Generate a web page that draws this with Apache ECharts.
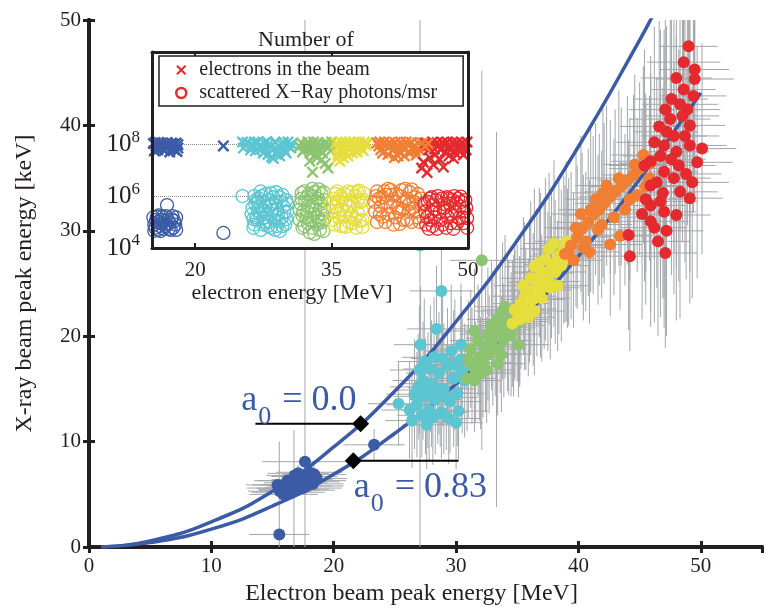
<!DOCTYPE html>
<html>
<head>
<meta charset="utf-8">
<script src="https://cdn.jsdelivr.net/npm/echarts@6/dist/echarts.min.js"></script>
<style>
html, body { margin: 0; padding: 0; background: #fff; }
#chart { width: 764px; height: 611px; }
</style>
</head>
<body>
<div id="chart"></div>
<script>
// main plot points: [electron energy MeV, X-ray energy keV, x error, y error]
var blueMain = [[15.6,5.3,2.6,0.6],[15.9,5.0,2.8,0.5],[16.1,5.6,2.4,0.7],[16.3,5.2,3.0,0.6],[16.5,5.9,2.5,0.8],[16.7,5.5,2.9,0.6],[16.9,6.1,2.6,0.7],[17.0,5.4,3.1,0.5],[17.2,5.8,2.7,0.8],[17.4,6.4,2.5,0.9],[17.5,5.6,3.2,0.6],[17.7,6.2,2.8,0.7],[17.9,6.7,2.4,0.8],[18.1,6.3,2.9,0.6],[18.4,6.9,2.6,0.9],[16.2,6.3,2.7,0.7],[17.1,7.0,2.5,0.8],[15.4,5.9,2.6,0.6],[16.8,6.8,2.3,0.5],[18.3,6.0,2.5,0.7],[16.0,5.9,2.6,0.6],[16.6,6.3,2.8,0.7],[17.3,6.7,2.4,0.6],[17.8,5.8,3.0,0.7],[18.6,6.5,2.5,0.8],[15.8,5.6,2.9,0.5],[16.4,5.4,2.5,0.6],[18.0,7.1,2.7,0.8],[16.75,5.5,2.0,5.6],[17.65,8.1,3.5,46],[15.55,1.2,2.45,8.8],[23.3,9.7,2.5,1.5]];
var cyanMain = [[26.4,12.0,2.2,4.5],[26.8,13.5,2.5,5.0],[27.2,12.5,2.0,4.0],[27.5,14.3,2.6,5.5],[27.8,13.0,2.3,4.8],[28.0,15.5,2.4,6.0],[28.3,14.0,2.1,5.2],[28.6,16.5,2.7,5.8],[28.8,12.8,2.2,4.4],[29.0,15.0,2.5,6.2],[29.3,17.2,2.3,5.5],[29.5,13.8,2.6,4.9],[29.8,16.0,2.4,6.5],[30.1,14.6,2.2,5.0],[30.4,17.8,2.5,6.0],[30.7,15.8,2.3,5.4],[27.0,16.8,2.4,6.1],[28.2,18.0,2.6,5.7],[29.6,18.6,2.2,6.3],[27.6,11.6,2.0,4.2],[26.9,15.2,2.3,5.0],[30.2,12.9,2.4,4.6],[26.6,14.5,2.3,5.2],[27.3,15.8,2.5,5.6],[27.9,16.9,2.2,6.0],[28.5,15.1,2.4,5.3],[29.2,14.2,2.6,5.0],[29.9,17.3,2.3,6.2],[28.1,12.3,2.1,4.5],[29.4,12.2,2.5,4.3],[30.5,16.6,2.4,5.8],[27.4,17.6,2.2,6.0],[28.9,17.9,2.6,6.4],[26.2,13.0,2.3,4.6],[30.0,11.8,2.2,4.4],[28.7,14.6,2.4,5.1],[27.7,14.9,2.5,5.5],[25.3,13.6,2.5,4.0],[27.1,19.2,2.2,5.5],[28.4,20.7,2.4,6.0],[28.8,24.3,2.6,7.0],[30.4,19.2,2.3,5.8],[27.05,28.6,2.0,29]];
var greenMain = [[30.9,16.0,2.3,5.0],[31.3,17.2,2.5,5.5],[31.6,16.6,2.2,4.8],[31.9,18.0,2.4,6.0],[32.2,17.5,2.6,5.2],[32.4,19.0,2.3,6.2],[32.7,18.3,2.5,5.6],[33.0,19.8,2.2,6.4],[33.3,18.8,2.4,5.8],[33.6,20.6,2.6,6.0],[33.9,19.6,2.3,5.4],[34.2,21.4,2.5,6.6],[34.5,20.2,2.4,5.9],[34.8,22.0,2.2,6.2],[35.1,19.2,2.5,5.0],[31.8,19.6,2.3,5.3],[32.9,21.0,2.4,6.1],[33.4,17.4,2.2,4.9],[31.2,18.8,2.5,5.6],[33.8,22.4,2.3,6.5],[31.0,17.8,2.4,5.6],[31.5,15.8,2.2,4.9],[32.0,16.5,2.6,5.3],[32.6,20.2,2.3,6.3],[33.2,20.4,2.5,6.1],[33.7,18.3,2.4,5.5],[34.3,20.8,2.2,6.4],[34.7,21.0,2.6,6.7],[32.5,16.8,2.3,5.0],[34.0,22.8,2.5,6.8],[31.5,20.5,2.4,5.9],[35.2,21.4,2.3,6.2],[32.1,27.2,2.6,18],[33.3,21.6,2.4,17.8]];
var yellowMain = [[34.6,21.2,2.4,6.0],[35.0,22.2,2.6,6.5],[35.3,23.1,2.3,6.2],[35.7,22.6,2.5,5.8],[36.0,24.3,2.4,6.8],[36.3,23.5,2.6,6.3],[36.6,25.1,2.3,7.0],[36.9,24.4,2.5,6.4],[37.2,26.0,2.4,7.2],[37.5,25.2,2.6,6.6],[37.8,26.8,2.3,7.0],[38.1,26.1,2.5,6.8],[38.4,27.6,2.4,7.4],[38.8,28.2,2.6,7.0],[39.1,27.4,2.3,6.6],[35.5,24.8,2.4,6.5],[36.8,27.0,2.5,7.1],[37.6,28.3,2.4,7.2],[35.9,21.8,2.2,5.6],[37.0,23.6,2.3,6.0],[38.3,24.8,2.5,6.2],[34.8,22.5,2.5,6.4],[35.2,21.6,2.3,6.0],[35.6,23.8,2.6,7.0],[36.1,25.5,2.4,7.3],[36.4,22.4,2.5,6.1],[36.9,26.1,2.3,7.5],[37.3,27.3,2.6,7.7],[37.7,24.6,2.4,6.8],[38.0,28.8,2.5,7.9],[38.6,26.7,2.3,7.2],[39.0,29.0,2.6,7.6],[36.4,26.6,2.4,7.4]];
var orangeMain = [[38.9,27.8,2.6,6.5],[39.4,28.6,2.5,7.0],[39.9,29.4,2.7,6.8],[40.3,30.2,2.4,7.2],[40.8,30.8,2.6,7.0],[41.2,31.5,2.5,7.5],[41.7,32.0,2.7,7.2],[42.1,32.6,2.4,7.6],[42.6,33.2,2.6,7.3],[43.0,33.7,2.5,7.8],[43.5,34.2,2.7,7.5],[44.0,34.8,2.4,8.0],[44.5,35.3,2.6,7.6],[45.0,35.9,2.5,8.2],[45.8,35.0,2.7,7.8],[40.6,29.0,2.4,6.6],[41.9,30.6,2.5,7.0],[42.6,28.7,2.6,6.8],[43.8,32.0,2.4,7.2],[40.2,31.6,2.5,7.4],[42.3,34.3,2.6,7.6],[44.8,33.4,2.5,7.3],[39.6,27.2,2.4,6.4],[45.3,37.2,2.6,8.4],[41.4,33.0,2.5,7.2],[39.2,28.0,2.5,7.0],[39.8,30.3,2.6,7.5],[40.4,28.4,2.4,6.9],[41.0,32.0,2.7,7.8],[41.6,30.1,2.5,7.1],[42.0,33.6,2.6,8.0],[42.9,31.3,2.4,7.4],[43.3,35.0,2.7,8.3],[44.2,33.0,2.5,7.7],[44.6,36.3,2.6,8.5],[45.5,34.2,2.4,8.0],[40.9,28.0,2.5,6.8],[43.4,29.5,2.6,7.0],[45.9,36.4,2.5,8.6]];
var redMain = [[49.0,47.5,2.4,10],[48.6,46.0,3.0,11],[49.5,45.3,2.8,10],[49.5,44.4,3.2,11],[48.6,43.4,2.6,10],[47.6,42.5,3.0,12],[48.9,41.5,2.7,11],[47.5,40.6,3.3,10],[49.1,40.0,2.9,12],[47.2,39.4,2.6,10],[46.2,38.4,3.1,11],[50.1,37.8,2.8,10],[49.1,38.1,3.0,12],[48.0,37.5,2.7,11],[45.9,36.6,3.2,10],[47.0,35.6,2.8,12],[47.8,35.0,3.0,11],[45.9,34.3,2.6,10],[48.3,33.7,3.1,12],[49.1,33.1,2.7,10],[46.7,32.8,3.0,11],[45.9,32.4,2.8,10],[47.0,31.8,2.6,11],[45.9,30.9,3.1,10],[46.2,30.3,2.7,9],[47.2,30.0,3.0,10],[44.2,27.6,2.8,9],[47.1,27.9,2.6,9],[45.4,36.2,2.9,11],[46.7,37.1,3.1,12],[47.8,39.0,2.7,11],[48.5,40.9,3.0,12],[47.0,38.1,2.8,11],[44.1,29.6,2.6,9],[48.2,36.2,3.0,11],[46.4,34.6,2.7,10],[48.8,35.4,2.9,10],[48.0,44.5,2.9,11],[48.3,42.0,3.1,12],[49.4,42.8,2.7,11],[47.1,41.5,3.0,11],[48.7,39.0,2.8,12],[46.6,39.9,3.2,10],[49.7,36.5,2.9,11],[46.9,33.6,2.7,10],[45.5,33.0,3.0,10],[48.0,31.5,2.8,10],[46.5,29.0,2.6,9],[49.3,34.6,3.0,11],[47.6,36.8,2.8,11],[45.2,31.6,2.9,10]];

// theory curves
var curveX0 = [1, 5, 10, 15, 20, 25, 30, 35, 40, 45, 46.5];
var curveY0 = [0.02, 0.59, 2.4, 5.3, 9.5, 14.8, 21.4, 29.1, 38.0, 48.1, 51.4];
var curveX1 = [1, 5, 10, 15, 20, 25, 30, 35, 40, 45, 50];
var curveY1 = [0.02, 0.43, 1.7, 3.9, 6.9, 10.8, 15.5, 21.1, 27.6, 34.9, 43.1];

// annotation markers, leader lines and label anchors
var annoDiamonds = [[22.2, 11.7], [21.6, 8.2]];
var annoLineA = [[13.6, 11.7], [22.2, 11.7]];
var annoLineB = [[21.6, 8.2], [30.2, 8.2]];
var annoTexts = [['0.0', 12.44, 15.64], ['0.83', 21.63, 7.4]];

// inset: electrons in the beam (x markers) [MeV, number]
var blueElec = [[15.4,1.05e8],[15.9,6e7],[16.3,1.1e8],[16.6,5.5e7],[17.0,9e7],[17.4,1.1e8],[17.7,6e7],[18.1,9.5e7],[15.5,5.5e7],[16.8,7.5e7],[18.0,5.2e7],[16.1,8e7],[17.5,8e7],[15.7,8.5e7],[16.0,1.15e8],[16.5,9e7],[16.9,1.15e8],[17.2,5e7],[17.9,1.1e8],[18.1,7e7],[15.6,1.15e8],[16.4,6.5e7],[17.6,1.0e8],[23.1,8.5e7]];
var cyanElec = [[25.2,1.2e8],[25.3,7e7],[26.4,9e7],[26.9,1.2e8],[27.3,6.5e7],[27.6,1.1e8],[28.0,4e7],[28.3,8e7],[28.6,2.8e7],[28.8,1.2e8],[29.1,5.5e7],[29.5,1e8],[29.8,6e7],[30.2,1.2e8],[30.5,7e7],[27.9,1.25e8],[29.3,3.5e7],[26.6,5.5e7],[25.7,1.15e8],[26.1,6e7],[26.5,1.2e8],[27.1,8.5e7],[27.5,4.5e7],[28.1,1e8],[28.5,6e7],[28.9,4e7],[29.3,8e7],[29.7,1.2e8],[30.0,4.5e7],[30.6,1e8],[26.2,9e7],[27.8,7e7],[28.4,3.2e7],[30.3,8.5e7]];
var greenElec = [[31.7,1.1e8],[32.0,6e7],[32.4,1.2e8],[32.7,4.5e7],[33.1,9e7],[33.5,1.15e8],[33.8,5.5e7],[34.2,1e8],[34.6,7e7],[35.0,1.2e8],[32.2,8e7],[33.4,3e7],[31.5,8e7],[31.8,5e7],[32.3,9.5e7],[32.6,7e7],[33.0,1.2e8],[33.3,6e7],[33.7,9e7],[34.0,4.5e7],[34.4,1.15e8],[34.8,9e7],[33.2,4e7],[34.9,5.5e7],[32.6,2.2e7],[34.3,1.8e7],[33.9,2.5e7],[32.9,8.3e6],[34.6,1.2e7]];
var yellowElec = [[35.5,1.1e8],[35.7,4e7],[35.9,2.2e7],[36.2,8e7],[36.5,1.2e8],[36.8,3.5e7],[37.1,7e7],[37.5,1.1e8],[37.8,5e7],[38.2,9e7],[38.6,1.2e8],[38.5,5.5e7],[36.4,5e7],[35.6,7e7],[36.0,1.2e8],[36.3,3e7],[36.7,9e7],[37.0,1.2e8],[37.3,4.5e7],[37.7,8.5e7],[38.0,1.2e8],[38.3,6.5e7],[38.8,9e7],[36.0,5.5e7],[35.6,2.8e7],[37.4,1.2e8],[38.9,1.1e8]];
var orangeElec = [[40.0,1.1e8],[40.4,6e7],[40.8,1.2e8],[41.2,4e7],[41.6,9e7],[42.0,1.15e8],[42.4,5e7],[42.8,9e7],[43.2,1.2e8],[43.6,4.5e7],[44.0,8e7],[44.5,1.1e8],[41.9,3e7],[43.0,3.5e7],[44.6,6e7],[40.2,8.5e7],[40.6,4.5e7],[41.0,9e7],[41.4,1.15e8],[41.8,6e7],[42.2,8e7],[42.6,1.2e8],[43.0,6e7],[43.4,9e7],[43.8,1.15e8],[44.2,5.5e7],[44.8,8.5e7],[40.3,1.2e8],[42.3,3.5e7],[44.3,3.8e7]];
var redElec = [[45.3,1.1e8],[45.7,6e7],[46.1,1.2e8],[46.4,4e7],[46.8,9e7],[47.2,1.15e8],[47.5,5e7],[47.9,8.5e7],[48.3,1.2e8],[48.6,4.5e7],[49.0,9e7],[49.4,1.1e8],[49.8,6e7],[49.9,1.2e8],[45.5,8.5e7],[45.9,9e7],[46.3,6.5e7],[46.6,1.15e8],[47.0,6e7],[47.4,9e7],[47.7,1.2e8],[48.1,6e7],[48.5,9.5e7],[48.8,1.15e8],[49.2,5.5e7],[49.6,8.5e7],[45.8,3e7],[47.9,3.5e7],[49.5,3.8e7],[48.9,6.5e7],[45.1,2e7],[46.2,1.6e7],[46.9,2.5e7],[48.4,2.8e7],[44.9,1.2e7],[45.5,8e6],[47.3,1.3e7]];
var orangeElecTop = [[45.0,1.1e8],[45.3,8e7],[45.6,1.05e8]];

// inset: scattered X-ray photons/msr (open circles)
var bluePhot = [[15.4,1.5e5],[15.6,6e4],[15.9,1e5],[16.2,4.5e4],[16.4,1.6e5],[16.7,7e4],[17.0,1.2e5],[17.3,5e4],[17.5,1.7e5],[17.8,8e4],[17.9,5e4],[15.5,4.6e4],[16.0,1.8e5],[16.6,1.1e5],[17.2,9e4],[15.5,8e4],[15.8,1.6e5],[16.1,7e4],[16.3,1.2e5],[16.5,5.5e4],[16.8,1.7e5],[16.9,8e4],[17.1,5.5e4],[17.4,1.3e5],[17.6,6e4],[17.7,1.1e5],[15.7,1.2e5],[16.2,9e4],[17.9,1.5e5],[15.9,5e4],[16.9,4.5e5],[23.1,3.8e4]];
var cyanPhot = [[26.2,2e5],[26.4,6e4],[26.6,5e5],[26.8,1.2e5],[27.0,8e5],[27.2,5e4],[27.4,3e5],[27.6,1.5e5],[27.8,1.2e6],[28.0,7e4],[28.2,4e5],[28.4,2e5],[28.6,9e5],[28.8,5e4],[29.0,3e5],[29.2,1.1e5],[29.4,6e5],[29.6,7e4],[29.8,2.5e5],[30.0,1.3e5],[30.1,5e5],[26.5,1e6],[27.5,6e5],[28.9,1.4e6],[29.3,4.5e4],[26.9,2.8e5],[28.1,1e5],[26.3,3.5e5],[26.5,8e4],[26.7,1.5e5],[26.9,6e5],[27.1,2e5],[27.3,1e6],[27.5,8e4],[27.7,4e5],[27.9,2e5],[28.1,7e5],[28.3,6e4],[28.5,3e5],[28.7,1.2e5],[28.9,6e5],[29.1,2e5],[29.3,9e5],[29.5,1.5e5],[29.7,4e5],[29.9,8e4],[30.1,2.5e5],[26.4,1.3e5],[27.0,4e5],[27.6,1e5],[28.3,1.3e6],[29.0,7e4],[29.6,1.1e6],[30.0,7e5],[27.2,1.5e6],[26.7,7e5],[28.5,5e5],[25.2,1e6]];
var greenPhot = [[31.5,3e5],[31.7,8e5],[31.8,6e4],[32.0,1.5e6],[32.2,1.5e5],[32.4,4e5],[32.6,4e4],[32.8,1e6],[33.0,2e5],[33.2,6e5],[33.4,8e4],[33.6,1.8e6],[33.8,3e5],[34.0,1e5],[34.2,7e5],[31.9,2.5e5],[33.1,3.5e4],[33.9,1.2e6],[32.3,9e5],[34.1,4.5e4],[31.5,1.2e5],[31.6,5e5],[31.8,1.8e5],[32.0,7e4],[32.1,6e5],[32.3,2.5e5],[32.5,1.2e6],[32.6,1.2e5],[32.8,4e5],[32.9,6e4],[33.1,1.4e6],[33.2,3e5],[33.4,1.6e5],[33.5,8e5],[33.7,5e4],[33.8,5e5],[34.0,2e5],[34.1,1.4e6],[34.2,1.3e5],[31.7,1.3e6],[32.9,1.9e6],[33.6,1.1e5],[32.4,9e4],[34.2,3e5]];
var yellowPhot = [[34.9,5e5],[35.1,1.2e5],[35.4,1.2e6],[35.7,2.5e5],[36.0,7e4],[36.2,8e5],[36.5,1.6e5],[36.8,1.5e6],[37.0,4e5],[37.3,9e4],[37.6,1e6],[37.9,2.2e5],[38.2,6e5],[38.5,1.3e6],[38.4,1.2e5],[35.8,6.3e5],[37.2,1.4e6],[36.6,6.5e4],[37.7,6e4],[35.0,2.5e5],[35.2,8e5],[35.3,8e4],[35.5,4e5],[35.8,1.5e5],[36.0,1e6],[36.1,3e5],[36.3,7e4],[36.5,5e5],[36.7,2.5e5],[36.9,1e5],[37.1,7e5],[37.2,2e5],[37.4,4.5e5],[37.6,1.3e5],[37.8,1.4e6],[37.9,7e5],[38.1,1.1e5],[38.3,3e5],[38.5,7e5],[35.6,1.5e6],[36.4,1.2e6],[38.0,1.6e6],[38.4,6.5e4]];
var orangePhot = [[39.7,6e5],[40.0,1.5e6],[40.3,2e5],[40.6,9e5],[40.9,1e5],[41.2,1.9e6],[41.5,4e5],[41.8,8e4],[42.1,1.2e6],[42.4,2.5e5],[42.7,1.7e6],[43.0,6e5],[43.3,1.2e5],[43.6,1.4e6],[43.9,3.5e5],[44.2,9e5],[44.5,1.5e5],[44.8,5e5],[41.0,1.1e6],[42.5,8.5e4],[43.8,1.8e6],[39.8,2.5e5],[40.0,1e5],[40.2,8e5],[40.4,4e5],[40.6,1.6e5],[40.8,1.5e6],[41.1,5.5e5],[41.3,2e5],[41.6,1.1e6],[41.9,6e5],[42.0,1.5e5],[42.2,3.5e5],[42.5,1e6],[42.8,3e5],[42.9,1.2e5],[43.1,1.9e6],[43.3,8e5],[43.5,2.5e5],[43.8,1e5],[44.0,6e5],[44.3,2.5e5],[44.5,1.2e6],[44.7,1e5],[44.9,8e5],[39.9,1e6],[41.5,1.7e6],[43.6,5e5]];
var redPhot = [[45.2,5e5],[45.5,1.5e5],[45.8,8e5],[46.1,7e4],[46.4,3e5],[46.7,1e6],[47.0,1.2e5],[47.3,5e5],[47.6,6e4],[47.9,8e5],[48.2,2e5],[48.5,1e6],[48.8,9e4],[49.1,4e5],[49.4,1.5e5],[49.7,7e5],[49.9,6e4],[46.0,2.5e5],[47.5,2.5e5],[48.7,5.5e5],[49.6,2.5e5],[46.6,5.5e4],[45.3,2.5e5],[45.4,8e4],[45.6,6e5],[45.9,1.2e5],[46.2,4.5e5],[46.3,1.5e5],[46.5,7e5],[46.9,2.5e5],[47.1,8e5],[47.2,8e4],[47.4,3.5e5],[47.8,1.5e5],[48.0,5e5],[48.1,9e4],[48.3,7e5],[48.6,2.5e5],[48.9,8e5],[49.0,1.4e5],[49.3,6e5],[49.5,9e4],[49.8,3.5e5],[49.9,1.4e5],[46.0,9e5],[47.7,9e5],[49.2,9.5e5],[45.7,5.5e4],[48.4,5.5e4]];

var insetXTicks = [20, 35, 50];
var insetGuides = [1e6, 1e8];

var FONT = 'Liberation Serif';
var INK = '#231f20';
var CURVE = '#3b5ba6';
var CROSS = 'path://M0,1.4L1.4,0L5,3.6L8.6,0L10,1.4L6.4,5L10,8.6L8.6,10L5,6.4L1.4,10L0,8.6L3.6,5Z';

var groups = [
    {key: 'blue', color: '#3b5ba6', main: blueMain, elec: blueElec, phot: bluePhot},
    {key: 'cyan', color: '#5bc5d2', main: cyanMain, elec: cyanElec, phot: cyanPhot},
    {key: 'green', color: '#8cc470', main: greenMain, elec: greenElec, phot: greenPhot},
    {key: 'yellow', color: '#e6de3c', main: yellowMain, elec: yellowElec, phot: yellowPhot},
    {key: 'orange', color: '#f07f33', main: orangeMain, elec: orangeElec, phot: orangePhot},
    {key: 'red', color: '#e42a2e', main: redMain, elec: redElec, phot: redPhot}
];

function pairs(xs, ys) {
    return xs.map(function (x, i) { return [x, ys[i]]; });
}

// error bars drawn through the axis scales
function renderErr(params, api) {
    var x = api.value(0), y = api.value(1), dx = api.value(2), dy = api.value(3);
    var l = api.coord([x - dx, y]), r = api.coord([x + dx, y]);
    var t = api.coord([x, y + dy]), b = api.coord([x, y - dy]);
    var style = {stroke: '#a3a6ab', lineWidth: 1};
    return {
        type: 'group',
        children: [
            {type: 'line', shape: {x1: l[0], y1: l[1], x2: r[0], y2: r[1]}, style: style},
            {type: 'line', shape: {x1: t[0], y1: t[1], x2: b[0], y2: b[1]}, style: style}
        ]
    };
}

var chart = echarts.init(document.getElementById('chart'));

var series = [];

var errData = [];
groups.forEach(function (g) { errData = errData.concat(g.main); });
series.push({
    type: 'custom', xAxisIndex: 0, yAxisIndex: 0, data: errData,
    encode: {x: 0, y: 1}, renderItem: renderErr, clip: true, silent: true, z: 1
});

groups.forEach(function (g) {
    series.push({
        name: 'main-' + g.key, type: 'scatter', xAxisIndex: 0, yAxisIndex: 0,
        data: g.main.map(function (p) { return [p[0], p[1]]; }),
        symbolSize: 12, itemStyle: {color: g.color, opacity: 1}, silent: true, z: 1
    });
});

[[curveX0, curveY0], [curveX1, curveY1]].forEach(function (c, i) {
    series.push({
        name: 'curve' + i, type: 'line', xAxisIndex: 0, yAxisIndex: 0,
        data: pairs(c[0], c[1]), smooth: true, showSymbol: false, clip: true,
        lineStyle: {color: CURVE, width: 3.5}, silent: true, z: 1
    });
});

[annoLineA, annoLineB].forEach(function (seg, i) {
    series.push({
        name: 'lead' + i, type: 'line', xAxisIndex: 0, yAxisIndex: 0, data: seg,
        showSymbol: false, lineStyle: {color: '#000', width: 2}, silent: true, z: 1
    });
});

series.push({
    name: 'diamonds', type: 'scatter', xAxisIndex: 0, yAxisIndex: 0, data: annoDiamonds,
    symbol: 'diamond', symbolSize: 17, itemStyle: {color: '#000', opacity: 1}, silent: true, z: 1
});

series.push({
    name: 'a0', type: 'scatter', xAxisIndex: 0, yAxisIndex: 0,
    data: annoTexts.map(function (t) { return [t[1], t[2]]; }),
    symbolSize: 0, silent: true, z: 1, itemStyle: {opacity: 1},
    label: {
        show: true, position: [0, 0], align: 'left', verticalAlign: 'top', opacity: 1,
        formatter: function (p) { return '{a|a}{s|0}{a| = ' + annoTexts[p.dataIndex][0] + '}'; },
        rich: {
            a: {fontFamily: FONT, fontSize: 36, lineHeight: 36, color: CURVE, verticalAlign: 'top'},
            s: {fontFamily: FONT, fontSize: 26, lineHeight: 26, color: CURVE, verticalAlign: 'top', padding: [22, 2, 0, 1]}
        }
    }
});

series.push({
    name: 'guides', type: 'scatter', xAxisIndex: 2, yAxisIndex: 2, data: [], z: 4,
    markLine: {
        silent: true, symbol: ['none', 'none'], label: {show: false},
        lineStyle: {type: 'dotted', color: '#8a8a8a', width: 1},
        data: insetGuides.map(function (v) { return {yAxis: v}; })
    }
});

groups.forEach(function (g) {
    series.push({
        name: g.key === 'red' ? 'electrons in the beam' : 'elec-' + g.key,
        type: 'scatter', xAxisIndex: 2, yAxisIndex: 2, data: g.elec,
        symbol: CROSS, symbolSize: 12, itemStyle: {color: g.color, opacity: 1}, silent: true, z: 5
    });
    series.push({
        name: g.key === 'red' ? 'scattered X\u2212Ray photons/msr' : 'phot-' + g.key,
        type: 'scatter', xAxisIndex: 2, yAxisIndex: 2, data: g.phot,
        symbol: 'circle', symbolSize: 13,
        itemStyle: {color: 'rgba(255,255,255,0)', borderColor: g.color, borderWidth: 1.3, opacity: 1},
        silent: true, z: 5
    });
});
// a few orange crosses sit on top of the red block
series.push({
    name: 'elec-orange-top', type: 'scatter', xAxisIndex: 2, yAxisIndex: 2, data: orangeElecTop,
    symbol: CROSS, symbolSize: 12, itemStyle: {color: '#f07f33', opacity: 1}, silent: true, z: 5
});

var frameLine = {lineStyle: {color: INK, width: 4}};
var frameTick = {inside: true, length: 6, lineStyle: {color: INK, width: 3}};
var insetLine = {lineStyle: {color: INK, width: 3}};
var insetTick = {inside: true, length: 5, customValues: insetXTicks, lineStyle: {color: INK, width: 2}};

var option = {
    animation: false,
    backgroundColor: '#fff',
    title: {
        text: 'Number of', left: 253, top: 24,
        textStyle: {fontFamily: FONT, fontSize: 22, fontWeight: 'normal', color: INK}
    },
    legend: {
        orient: 'vertical', left: 159, top: 56, z: 8,
        padding: [4, 26, 3, 16], itemGap: 3, itemWidth: 10, itemHeight: 10,
        backgroundColor: '#fff', borderColor: INK, borderWidth: 1.5, borderRadius: 0,
        selectedMode: false,
        textStyle: {fontFamily: FONT, fontSize: 20, color: INK, padding: [0, 0, 0, 8]},
        data: [
            {name: 'electrons in the beam', icon: CROSS, itemStyle: {color: '#e42a2e', borderWidth: 0}},
            {name: 'scattered X\u2212Ray photons/msr', icon: 'circle',
                itemStyle: {color: '#fff', borderColor: '#e42a2e', borderWidth: 2.5}}
        ]
    },
    grid: [
        {left: 89, top: 20, right: 2, bottom: 59},
        {left: 152, top: 52, width: 316, height: 196, show: true,
            backgroundColor: '#fff', borderColor: 'transparent', borderWidth: 0, z: 3}
    ],
    xAxis: [
        {
            gridIndex: 0, type: 'value', min: 0, max: 55, interval: 10, position: 'bottom',
            axisLine: frameLine, axisTick: frameTick, splitLine: {show: false},
            axisLabel: {fontFamily: FONT, fontSize: 21, color: INK, margin: 9, showMaxLabel: false},
            name: 'Electron beam peak energy [MeV]', nameLocation: 'middle', nameGap: 34,
            nameTextStyle: {fontFamily: FONT, fontSize: 24, color: INK, padding: [0, 28, 0, 0]}
        },
        {
            gridIndex: 0, type: 'value', min: 0, max: 55, interval: 10, position: 'top',
            axisLine: frameLine, axisTick: frameTick, axisLabel: {show: false}, splitLine: {show: false}
        },
        {
            gridIndex: 1, type: 'value', min: 15.25, max: 50, position: 'bottom', z: 6,
            axisLine: insetLine, axisTick: insetTick, splitLine: {show: false},
            axisLabel: {customValues: insetXTicks, fontFamily: FONT, fontSize: 21, color: INK, margin: 12},
            name: 'electron energy [MeV]', nameLocation: 'middle', nameGap: 32,
            nameTextStyle: {fontFamily: FONT, fontSize: 22, color: INK, padding: [0, 36, 0, 0]}
        },
        {
            gridIndex: 1, type: 'value', min: 15.25, max: 50, position: 'top', z: 6,
            axisLine: insetLine, axisTick: insetTick, axisLabel: {show: false}, splitLine: {show: false}
        }
    ],
    yAxis: [
        {
            gridIndex: 0, type: 'value', min: 0, max: 50, interval: 10, position: 'left',
            axisLine: frameLine, axisTick: frameTick, splitLine: {show: false},
            axisLabel: {fontFamily: FONT, fontSize: 21, color: INK, margin: 8},
            name: 'X-ray beam peak energy [keV]', nameLocation: 'middle', nameGap: 52,
            nameTextStyle: {fontFamily: FONT, fontSize: 24, color: INK}
        },
        {
            gridIndex: 0, type: 'value', min: 0, max: 50, interval: 10, position: 'right',
            axisLine: frameLine, axisTick: frameTick, axisLabel: {show: false}, splitLine: {show: false}
        },
        {
            gridIndex: 1, type: 'log', logBase: 10, min: 1e4, max: 3.5e11, position: 'left', z: 6,
            axisLine: insetLine, axisTick: {show: false}, splitLine: {show: false},
            axisLabel: {
                margin: 12,
                formatter: function (v) {
                    var e = Math.round(Math.log10(v));
                    return (e === 4 || e === 6 || e === 8) ? '{b|10}{s|' + e + '}' : '';
                },
                rich: {
                    b: {fontFamily: FONT, fontSize: 25, color: INK},
                    s: {fontFamily: FONT, fontSize: 17, color: INK, padding: [0, 0, 14, 0]}
                }
            }
        },
        {
            gridIndex: 1, type: 'log', logBase: 10, min: 1e4, max: 3.5e11, position: 'right', z: 6,
            axisLine: insetLine, axisTick: {show: false}, axisLabel: {show: false}, splitLine: {show: false}
        }
    ],
    series: series
};

chart.setOption(option);
</script>
</body>
</html>
